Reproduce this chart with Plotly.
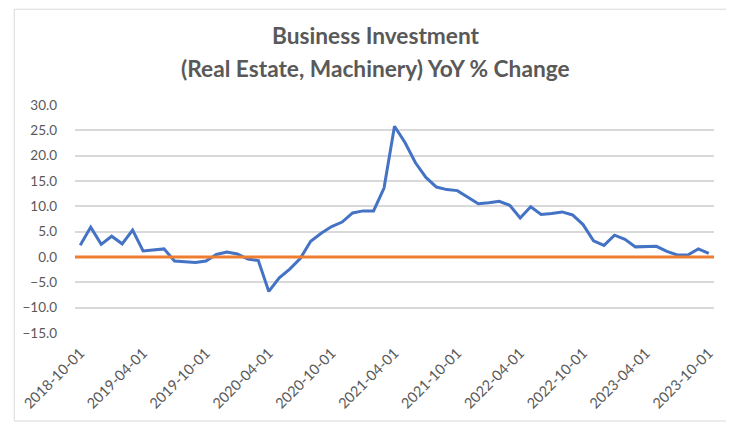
import pandas as pd
import plotly.graph_objects as go

# monthly categories, 2018-10 .. 2023-10
months = pd.date_range("2018-10-01", periods=61, freq="MS").strftime("%Y-%m-%d").tolist()

yoy_change = [
    2.3, 5.9, 2.5, 4.1, 2.6, 5.3, 1.2, 1.4, 1.6, -0.8,
    -0.9, -1.1, -0.8, 0.5, 1.0, 0.6, -0.4, -0.7, -6.8, -4.1,
    -2.4, -0.3, 3.1, 4.7, 6.0, 6.9, 8.7, 9.1, 9.1, 13.6,
    25.8, 22.6, 18.6, 15.7, 13.8, 13.3, 13.1, 11.8, 10.5, 10.7,
    11.0, 10.2, 7.7, 9.9, 8.4, 8.6, 8.9, 8.3, 6.4, 3.2,
    2.3, 4.3, 3.5, 2.0, 2.0, 2.1, 1.1, 0.4, 0.4, 1.6,
    0.7,
]

x_ticks = months[::6]
y_ticks = [-15, -10, -5, 0, 5, 10, 15, 20, 25, 30]

GREY = "#595959"
FONT = "Lato"

fig = go.Figure()
fig.add_trace(go.Scatter(
    x=months, y=yoy_change, mode="lines",
    line=dict(color="#4472C4", width=3),
    showlegend=False,
))

# zero axis line in orange
fig.add_hline(y=0, line=dict(color="#ED7D31", width=3), layer="above")

# page body has an 8px margin, so the figure is a bit smaller than the window
fig.update_layout(
    width=726, height=418,
    margin=dict(l=62, r=20, t=97, b=93),
    paper_bgcolor="white", plot_bgcolor="white",
    font=dict(family=FONT, size=13.5, color=GREY),
    showlegend=False,
)

fig.update_xaxes(
    type="category",
    range=[-0.5, len(months) - 0.5],
    tickmode="array", tickvals=x_ticks, ticktext=x_ticks,
    tickangle=-45, showgrid=False, zeroline=False, showline=False,
    ticks="", ticklabelstandoff=8, tickfont=dict(size=14.5),
)
fig.update_yaxes(
    range=[-15, 30], tickmode="array", tickvals=y_ticks,
    tickformat=".1f", showgrid=True, gridcolor="#D9D9D9", gridwidth=1.5,
    zeroline=False, showline=False, ticks="", ticklabelstandoff=17,
)

# title, two lines
fig.add_annotation(text="<b>Business Investment</b>", xref="paper", yref="paper",
                   x=0.4705, y=1.307, showarrow=False, xanchor="center", yanchor="middle",
                   font=dict(family=FONT, size=22.7, color=GREY))
fig.add_annotation(text="<b>(Real Estate, Machinery) YoY % Change</b>", xref="paper", yref="paper",
                   x=0.4705, y=1.158, showarrow=False, xanchor="center", yanchor="middle",
                   font=dict(family=FONT, size=22.7, color=GREY))

# chart area border
fig.add_shape(type="rect", xref="paper", yref="paper",
              x0=-0.095, x1=1.0217, y0=-0.386, y1=1.42,
              line=dict(color="#D9D9D9", width=1), layer="below")

fig.write_html("out.html")
